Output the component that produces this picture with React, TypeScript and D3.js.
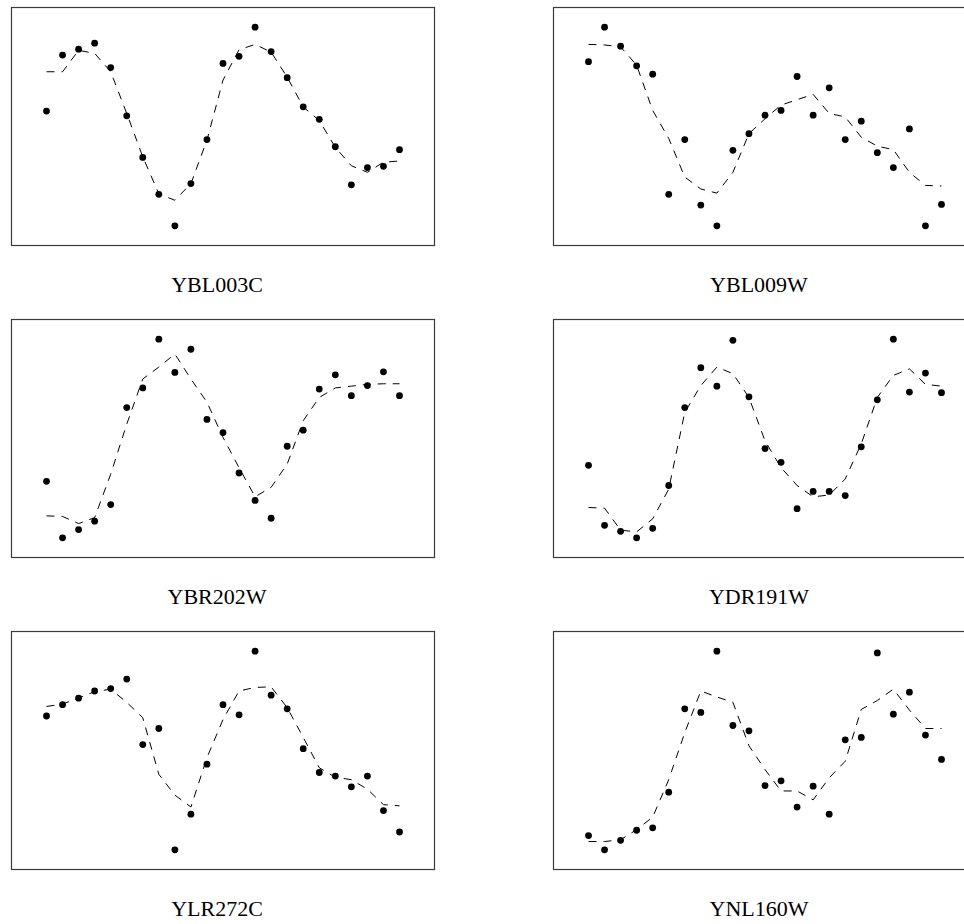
import React from "react";
import * as d3 from "d3";

const genes = ["YBL003C", "YBL009W", "YBR202W", "YDR191W", "YLR272C", "YNL160W"];
const timepoints = d3.range(1, 24);

const obsYBL003C = [0.26, 1.2, 1.3, 1.4, 0.99, 0.18, -0.52, -1.14, -1.67, -0.96, -0.22, 1.06, 1.18, 1.67, 1.26, 0.82, 0.33, 0.12, -0.34, -0.98, -0.69, -0.67, -0.39];
const fitYBL003C = [0.92, 0.92, 1.28, 1.23, 0.92, 0.22, -0.51, -1.13, -1.24, -0.96, -0.23, 0.78, 1.29, 1.38, 1.25, 0.83, 0.33, 0.1, -0.35, -0.66, -0.77, -0.6, -0.58];

const obsYBL009W = [1.09, 1.67, 1.35, 1.02, 0.88, -1.14, -0.22, -1.32, -1.67, -0.4, -0.12, 0.19, 0.27, 0.84, 0.19, 0.65, -0.22, 0.09, -0.44, -0.69, -0.04, -1.67, -1.31];
const fitYBL009W = [1.38, 1.37, 1.34, 1.03, 0.27, -0.2, -0.85, -1.05, -1.12, -0.77, -0.12, 0.13, 0.36, 0.45, 0.54, 0.22, 0.16, -0.18, -0.33, -0.39, -0.77, -0.99, -1.0];

const obsYBR202W = [-0.72, -1.67, -1.53, -1.39, -1.11, 0.52, 0.85, 1.67, 1.11, 1.5, 0.32, 0.1, -0.58, -1.04, -1.34, -0.13, 0.14, 0.83, 1.07, 0.72, 0.89, 1.12, 0.72];
const fitYBR202W = [-1.3, -1.31, -1.43, -1.33, -0.6, 0.24, 1.0, 1.2, 1.42, 1.0, 0.61, 0.02, -0.49, -0.98, -0.82, -0.43, 0.3, 0.69, 0.85, 0.88, 0.91, 0.92, 0.92];

const obsYDR191W = [-0.45, -1.46, -1.56, -1.67, -1.51, -0.79, 0.52, 1.19, 0.88, 1.65, 0.7, -0.17, -0.4, -1.18, -0.89, -0.89, -0.96, -0.14, 0.65, 1.67, 0.78, 1.1, 0.77];
const fitYDR191W = [-1.16, -1.17, -1.54, -1.57, -1.35, -0.85, 0.44, 0.89, 1.2, 1.09, 0.69, -0.04, -0.49, -0.79, -0.98, -0.95, -0.68, -0.09, 0.69, 1.06, 1.17, 0.91, 0.88];

const obsYLR272C = [0.58, 0.77, 0.88, 1.0, 1.04, 1.2, 0.1, 0.37, -1.67, -1.07, -0.23, 0.77, 0.6, 1.67, 0.93, 0.7, 0.03, -0.37, -0.43, -0.61, -0.43, -1.01, -1.37];
const fitYLR272C = [0.74, 0.78, 0.88, 0.99, 1.03, 0.81, 0.55, -0.4, -0.75, -0.95, -0.12, 0.52, 1.0, 1.06, 1.07, 0.72, 0.22, -0.29, -0.45, -0.49, -0.65, -0.91, -0.93];

const obsYNL160W = [-1.43, -1.67, -1.51, -1.34, -1.3, -0.7, 0.7, 0.64, 1.67, 0.42, 0.33, -0.59, -0.51, -0.95, -0.6, -1.07, 0.18, 0.22, 1.64, 0.61, 0.98, 0.26, -0.15];
const fitYNL160W = [-1.53, -1.53, -1.5, -1.33, -1.12, -0.49, 0.3, 1.0, 0.9, 0.81, 0.08, -0.32, -0.68, -0.68, -0.83, -0.46, -0.18, 0.69, 0.84, 1.03, 0.68, 0.37, 0.37];

const observed = [obsYBL003C, obsYBL009W, obsYBR202W, obsYDR191W, obsYLR272C, obsYNL160W];
const fitted = [fitYBL003C, fitYBL009W, fitYBR202W, fitYDR191W, fitYLR272C, fitYNL160W];

const W = 964;
const H = 924;
const panelW = 423;
const panelH = 238;
const colX = [11.5, 553.5];
const rowY = [7.5, 319.5, 631.5];

const x = d3.scaleLinear().domain([1, 23]).range([35, panelW - 35]);
const y = d3.scaleLinear().domain([-2, 2]).range([panelH, 0]);
const line = d3
  .line<number>()
  .x((_, i) => x(timepoints[i]))
  .y((d) => y(d));

function Panel({ idx }: { idx: number }) {
  const col = idx % 2;
  const row = Math.floor(idx / 2);
  const obs = observed[idx];
  const fit = fitted[idx];
  return (
    <g transform={`translate(${colX[col]},${rowY[row]})`}>
      <rect x={0} y={0} width={panelW} height={panelH} fill="white" stroke="#3a3a3a" strokeWidth={1.2} />
      <path d={line(fit) ?? ""} fill="none" stroke="#000" strokeWidth={1} strokeDasharray="8,7" />
      {obs.map((v, i) => (
        <circle key={i} cx={x(timepoints[i])} cy={y(v)} r={3.4} fill="#000" />
      ))}
      <text
        x={panelW / 2 - 6}
        y={panelH + 46}
        textAnchor="middle"
        fontFamily="Liberation Serif, Times New Roman, Times, serif"
        fontSize={22}
        fill="#000"
      >
        {genes[idx]}
      </text>
    </g>
  );
}

export default function App() {
  return (
    <svg
      width={W}
      height={H}
      style={{ position: "absolute", left: 0, top: 0, background: "white" }}
    >
      {genes.map((_, i) => (
        <Panel key={i} idx={i} />
      ))}
    </svg>
  );
}
